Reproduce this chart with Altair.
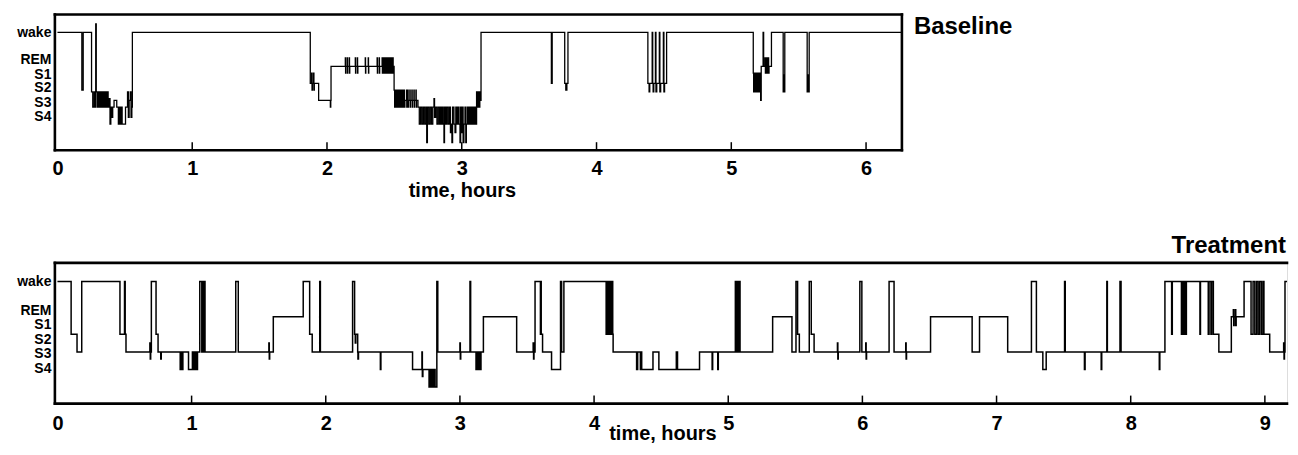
import altair as alt
import pandas as pd

# ---------------- data ----------------
stage_names = ["wake", "REM", "S1", "S2", "S3", "S4"]
stage_label_pos = [0, 1.62, 2.45, 3.27, 4.1, 4.93]   # where the row labels sit
# stage levels used by the trace: wake=0, REM=2, S1=3, S2=4, S3=5, S4=6

base_ticks = [0, 1, 2, 3, 4, 5, 6]
treat_ticks = [0, 1, 2, 3, 4, 5, 6, 7, 8, 9]

# (time in hours, stage level) -- step changes
base_steps = [
    (0.000, 0),
    (0.181, 3.4), (0.191, 0),
    (0.253, 3.5), (0.262, 4.4), (0.272, 3.5), (0.280, 4.4), (0.284, -0.5), (0.288, 3.5),
    (0.296, 4.4), (0.304, 3.5), (0.312, 4.4), (0.320, 3.5), (0.328, 4.4), (0.336, 3.5),
    (0.344, 4.4), (0.352, 3.5), (0.360, 4.4), (0.368, 3.5), (0.376, 4.4), (0.382, 3.9),
    (0.390, 5.4), (0.396, 4.4), (0.402, 5.0), (0.410, 4.4), (0.420, 4.0), (0.440, 4.4),
    (0.452, 5.4), (0.460, 4.4), (0.466, 5.4), (0.474, 4.4), (0.480, 5.4), (0.505, 4.4),
    (0.520, 3.5), (0.526, 5.0), (0.532, 4.0), (0.540, 3.5), (0.546, 5.0), (0.552, 4.4),
    (0.556, 0),
    (1.876, 3.0), (1.886, 2.4), (1.889, 3.4), (1.892, 3.0), (1.900, 2.4), (1.903, 3.4),
    (1.906, 3.0), (1.938, 4.0), (2.025, 4.4), (2.028, 4.0), (2.030, 2.0),
    (2.136, 1.5), (2.138, 2.4), (2.140, 2.0),
    (2.150, 1.5), (2.152, 2.4), (2.154, 2.0),
    (2.165, 1.5), (2.167, 2.4), (2.169, 2.0),
    (2.210, 1.5), (2.212, 2.4), (2.214, 2.0),
    (2.225, 1.5), (2.227, 2.4), (2.229, 2.0),
    (2.284, 1.5), (2.286, 2.4), (2.288, 2.0),
    (2.306, 1.5), (2.308, 2.4), (2.310, 2.0),
    (2.372, 1.5), (2.374, 2.4), (2.376, 2.0),
    (2.387, 1.5), (2.389, 2.4), (2.391, 2.0),
    (2.409, 1.5), (2.411, 2.4),
    (2.415, 1.5), (2.419, 2.4), (2.423, 1.5), (2.427, 2.4), (2.431, 1.5), (2.435, 2.4),
    (2.439, 1.5), (2.443, 2.4), (2.447, 1.5), (2.451, 2.4), (2.455, 1.5), (2.459, 2.4),
    (2.463, 1.5), (2.467, 2.4), (2.471, 1.5), (2.475, 2.4), (2.479, 1.5), (2.483, 2.4),
    (2.487, 1.5), (2.491, 2.4), (2.494, 2.0),
    (2.498, 3.4), (2.502, 4.4), (2.506, 3.4), (2.510, 4.4), (2.514, 3.4), (2.518, 4.4),
    (2.522, 3.4), (2.526, 4.4), (2.530, 3.4), (2.534, 4.4), (2.538, 3.4), (2.542, 4.4),
    (2.546, 3.4), (2.550, 4.4), (2.554, 3.4), (2.558, 4.4), (2.562, 3.4), (2.566, 4.4),
    (2.570, 3.4), (2.574, 4.4), (2.578, 4.0),
    (2.590, 3.4), (2.592, 4.4), (2.594, 4.0),
    (2.600, 3.4), (2.602, 4.4), (2.604, 4.0),
    (2.615, 3.4), (2.617, 4.4), (2.619, 4.0),
    (2.630, 3.4), (2.632, 4.4), (2.634, 4.0),
    (2.645, 3.4), (2.647, 4.4), (2.649, 4.0),
    (2.660, 3.4), (2.662, 4.4), (2.664, 4.0),
    (2.675, 4.4), (2.685, 5.4), (2.695, 4.4), (2.705, 5.4), (2.715, 4.4), (2.725, 5.4),
    (2.735, 4.4), (2.740, 6.5), (2.745, 4.4), (2.755, 5.4), (2.765, 4.4), (2.775, 5.4),
    (2.785, 4.4), (2.794, 3.9), (2.798, 5.0), (2.806, 4.4), (2.816, 5.4), (2.826, 4.4),
    (2.836, 5.4), (2.842, 4.4), (2.846, 5.4), (2.850, 4.4), (2.854, 5.4), (2.858, 4.4),
    (2.862, 5.4), (2.868, 6.5), (2.872, 4.4), (2.876, 5.4), (2.880, 4.4), (2.884, 5.4),
    (2.888, 4.4), (2.898, 5.4), (2.908, 4.4), (2.916, 5.9), (2.922, 5.4), (2.927, 6.5),
    (2.932, 4.4), (2.942, 5.4), (2.950, 5.9), (2.956, 4.4), (2.964, 5.4), (2.972, 4.4),
    (2.980, 5.4), (2.987, 6.5), (2.992, 4.4), (2.998, 5.9), (3.004, 4.4), (3.010, 6.5),
    (3.016, 5.4), (3.024, 4.4), (3.030, 6.5), (3.034, 5.4), (3.042, 4.4), (3.050, 5.4),
    (3.054, 4.4), (3.058, 5.4), (3.062, 4.4), (3.066, 5.4), (3.070, 4.4), (3.074, 5.4),
    (3.078, 4.4), (3.082, 5.4), (3.086, 4.4), (3.090, 5.4), (3.094, 4.4), (3.098, 5.4),
    (3.102, 4.4), (3.106, 5.4), (3.110, 3.5), (3.114, 4.4), (3.118, 3.5), (3.122, 4.4),
    (3.126, 3.5), (3.130, 4.4), (3.134, 3.5), (3.138, 4.0), (3.143, 0),
    (3.665, 3.0), (3.671, 0),
    (3.764, 3.0), (3.772, 3.4), (3.780, 3.0), (3.788, 0),
    (4.381, 3.0), (4.390, 3.5), (4.395, 3.0), (4.413, 0), (4.417, 3.0), (4.420, 3.5),
    (4.425, 3.0), (4.437, 0), (4.441, 3.5), (4.447, 3.0), (4.466, 0), (4.470, 3.5),
    (4.476, 3.0), (4.496, 0), (4.500, 3.5), (4.505, 3.0), (4.520, 0),
    (5.163, 2.4), (5.166, 3.5), (5.170, 2.4), (5.174, 3.5), (5.178, 2.4), (5.182, 3.5),
    (5.186, 2.4), (5.190, 3.5), (5.196, 2.4), (5.202, 3.5), (5.208, 2.4), (5.214, 3.5),
    (5.218, 4.0), (5.222, 2.0), (5.236, 0), (5.240, 2.0),
    (5.250, 1.5), (5.253, 2.4), (5.256, 2.0),
    (5.262, 1.5), (5.265, 2.4), (5.268, 2.0),
    (5.274, 1.5), (5.277, 2.4), (5.280, 2.0),
    (5.298, 0),
    (5.385, 3.5), (5.389, 2.5), (5.393, 3.5), (5.397, 0),
    (5.563, 3.5), (5.568, 2.5), (5.572, 3.5), (5.578, 0),
    (6.266, 0),
]

# (time in hours, stage level) -- step changes
treat_steps = [
    (0.000, 0),
    (0.102, 3), (0.146, 4), (0.181, 0),
    (0.466, 3), (0.500, 0), (0.505, 3), (0.511, 4),
    (0.689, 3.5), (0.692, 4.4), (0.695, 4),
    (0.700, 0), (0.735, 3), (0.750, 4),
    (0.770, 4.4), (0.774, 4),
    (0.915, 5), (0.922, 4), (0.926, 5), (0.935, 4),
    (0.977, 5),
    (1.006, 4), (1.011, 5), (1.016, 4), (1.021, 5), (1.026, 4), (1.031, 5), (1.036, 4),
    (1.040, 5), (1.044, 4),
    (1.061, 0),
    (1.076, 4), (1.080, 0), (1.084, 4), (1.088, 0), (1.092, 4), (1.096, 0), (1.100, 4),
    (1.329, 0), (1.348, 4),
    (1.576, 3.5), (1.579, 4.4), (1.582, 4),
    (1.609, 2), (1.832, 0), (1.880, 3), (1.899, 4),
    (1.955, 0), (1.960, 4),
    (2.200, 0), (2.215, 3), (2.220, 3.5), (2.224, 3), (2.238, 4), (2.240, 4.4), (2.244, 4),
    (2.407, 5), (2.411, 4),
    (2.647, 5),
    (2.717, 4), (2.720, 5.4), (2.724, 5),
    (2.770, 6), (2.776, 5), (2.780, 6), (2.786, 5), (2.790, 6), (2.794, 5), (2.797, 6),
    (2.800, 5), (2.803, 6), (2.806, 5), (2.809, 6), (2.812, 5), (2.815, 6),
    (2.828, 0), (2.835, 4),
    (3.000, 3.5), (3.003, 4.4), (3.006, 4),
    (3.075, 0), (3.080, 4),
    (3.120, 5), (3.124, 4), (3.128, 5), (3.132, 4), (3.136, 5), (3.140, 4), (3.144, 5),
    (3.148, 4), (3.152, 5), (3.157, 4),
    (3.175, 2), (3.423, 4),
    (3.546, 3.5), (3.549, 4.4), (3.552, 4),
    (3.560, 0), (3.600, 3), (3.603, 0), (3.606, 3), (3.616, 4), (3.683, 5),
    (3.750, 0), (3.758, 4), (3.775, 0),
    (4.090, 3), (4.095, 0), (4.100, 3), (4.105, 0), (4.110, 3), (4.115, 0), (4.120, 3),
    (4.125, 0), (4.130, 3), (4.135, 0), (4.139, 3), (4.142, 4),
    (4.317, 5), (4.325, 4), (4.345, 5), (4.350, 4), (4.355, 5),
    (4.439, 4), (4.483, 5),
    (4.613, 4), (4.616, 5), (4.619, 4), (4.622, 5),
    (4.786, 4),
    (4.880, 5), (4.884, 4), (4.922, 5), (4.926, 4),
    (5.053, 0), (5.058, 4), (5.062, 0), (5.067, 4), (5.071, 0), (5.076, 4), (5.080, 0),
    (5.088, 4),
    (5.331, 2), (5.475, 4),
    (5.505, 0), (5.517, 3), (5.530, 4),
    (5.604, 0), (5.619, 3), (5.640, 4),
    (5.814, 3.5), (5.817, 4.4), (5.820, 4),
    (5.981, 0), (5.996, 4),
    (6.025, 3.5), (6.028, 4.4), (6.031, 4),
    (6.199, 0), (6.236, 4),
    (6.323, 3.5), (6.326, 4.4), (6.329, 4),
    (6.508, 2), (6.818, 4), (6.873, 2), (7.083, 4),
    (7.260, 0), (7.297, 4), (7.345, 5), (7.370, 4),
    (7.507, 0), (7.512, 4),
    (7.655, 5), (7.660, 4),
    (7.780, 5), (7.784, 4),
    (7.822, 0), (7.826, 4),
    (7.920, 0), (7.928, 4),
    (8.213, 5), (8.217, 4),
    (8.255, 0),
    (8.305, 3), (8.310, 0),
    (8.378, 3), (8.382, 0), (8.386, 3), (8.390, 0), (8.394, 3), (8.398, 0), (8.402, 3),
    (8.406, 0), (8.410, 3), (8.415, 0),
    (8.516, 3), (8.520, 0),
    (8.578, 3), (8.584, 0), (8.598, 3), (8.604, 0), (8.616, 3),
    (8.657, 4), (8.750, 2),
    (8.765, 1.6), (8.768, 2.5), (8.771, 2), (8.780, 1.6), (8.783, 2.5), (8.786, 2),
    (8.845, 0),
    (8.897, 3), (8.912, 0), (8.925, 3), (8.938, 0), (8.950, 3), (8.962, 0), (8.975, 3),
    (8.987, 0), (8.993, 3),
    (9.036, 4),
    (9.140, 3.5), (9.143, 4.4), (9.146, 4), (9.150, 0),
    (9.226, 0),
]

# ---------------- helpers ----------------
FONT = "Liberation Sans"
Y_DOMAIN = [-1.06, 6.94]

label_expr = "".join(
    f"abs(datum.value - {p}) < 0.05 ? '{n}' : " for p, n in zip(stage_label_pos, stage_names)
) + "''"

one_row = pd.DataFrame({"a": [0]})


def panel(steps, ticks, x_dom, W, H, label_pad, title_x, title_y,
          name, name_x, name_y, name_align, right_border, lw):
    df = pd.DataFrame({"t": [s[0] for s in steps],
                       "v": [s[1] for s in steps],
                       "i": list(range(len(steps)))})
    xscale = alt.Scale(domain=x_dom, nice=False, zero=False)
    yscale = alt.Scale(domain=Y_DOMAIN, nice=False, zero=False, reverse=True)
    xaxis = alt.Axis(
        values=ticks, format="d", domain=False, ticks=False, tickSize=0, grid=False,
        labelPadding=label_pad, labelFontSize=20, labelFlush=False,
        labelFont=FONT, labelFontWeight="bold", labelColor="black",
        title="time, hours", titleFontSize=20, titleX=title_x, titleY=title_y,
        titleFont=FONT, titleFontWeight="bold", titleColor="black",
        titleBaseline="alphabetic", titleAlign="center")

    line = alt.Chart(df).mark_line(
        interpolate="step-after", color="black", strokeWidth=lw, clip=True
    ).encode(
        x=alt.X("t:Q", scale=xscale, axis=xaxis),
        y=alt.Y("v:Q", scale=yscale, axis=alt.Axis(
            values=stage_label_pos, labelExpr=label_expr, domain=False, ticks=False,
            tickSize=0, grid=False, labelPadding=4, labelFontSize=14,
            labelFont=FONT, labelFontWeight="bold", labelColor="black",
            labelOverlap=False, labelFlush=False, labelBaseline="middle", title=None)),
        order=alt.Order("i:Q"),
    )

    tick_df = pd.DataFrame({"t": [t for t in ticks if t > 0]})
    tick_marks = alt.Chart(tick_df).mark_rule(color="black", strokeWidth=1.5).encode(
        x=alt.X("t:Q", scale=xscale, axis=xaxis),
        y=alt.value(H - 8), y2=alt.value(H),
    )

    fr = dict(color="black", strokeWidth=2.6, strokeCap="square")
    top_line = alt.Chart(one_row).mark_rule(**fr).encode(
        x=alt.value(0), x2=alt.value(W), y=alt.value(0))
    bottom_line = alt.Chart(one_row).mark_rule(**fr).encode(
        x=alt.value(0), x2=alt.value(W), y=alt.value(H))
    left_line = alt.Chart(one_row).mark_rule(**fr).encode(
        x=alt.value(0), y=alt.value(0), y2=alt.value(H))
    layers = [line, tick_marks, top_line, bottom_line, left_line]
    if right_border:
        layers.append(alt.Chart(one_row).mark_rule(**fr).encode(
            x=alt.value(W), y=alt.value(0), y2=alt.value(H)))

    label = alt.Chart(one_row).mark_text(
        font=FONT, fontSize=24, fontWeight="bold", color="black",
        align=name_align, baseline="alphabetic"
    ).encode(text=alt.value(name), x=alt.value(name_x), y=alt.value(name_y))
    layers.append(label)

    return alt.layer(*layers).properties(width=W, height=H)


W1, H1 = 849, 136
W2, H2 = 1235, 141

top = panel(base_steps, base_ticks, [-0.019, 6.266], W1, H1, 8, 408, 46,
            "Baseline", W1 + 12, 20, "left", True, 1.3)
bottom = panel(treat_steps, treat_ticks, [-0.019, 9.165], W2, H2, 10, 609, 36,
               "Treatment", W2 - 1, -10, "right", False, 1.5)

chart = alt.vconcat(top, bottom, spacing=113).properties(
    bounds="flush",
    padding={"left": 8, "top": 3, "right": 0, "bottom": 0},
).configure_view(stroke=None).configure(font=FONT)

chart.save("out.html", embed_options={"renderer": "svg", "actions": False})
